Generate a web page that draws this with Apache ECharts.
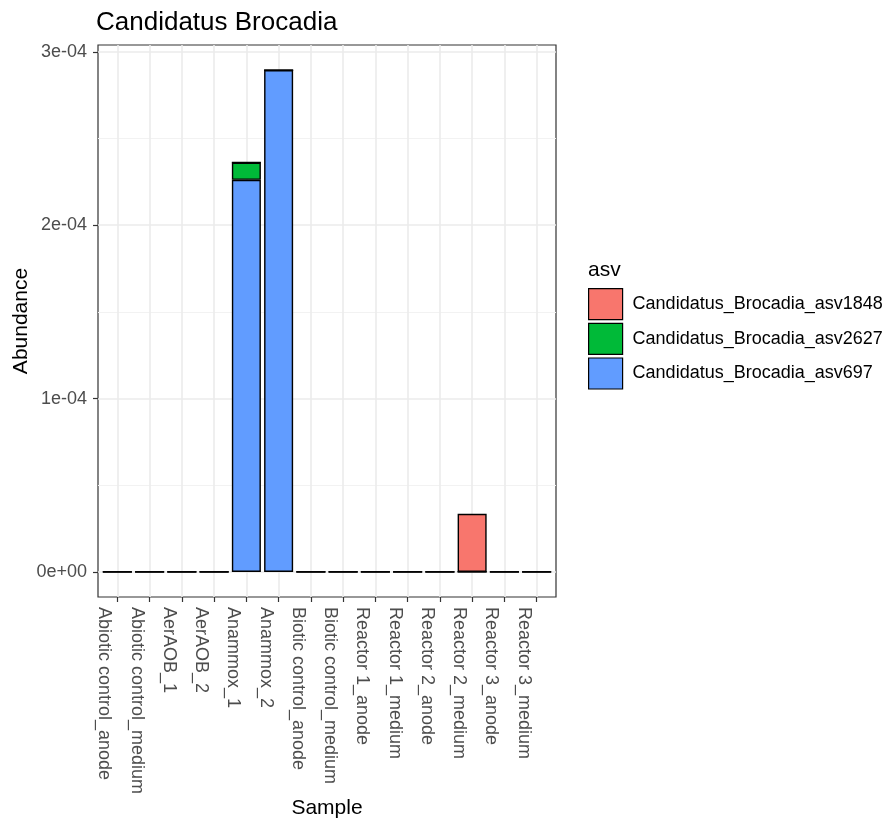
<!DOCTYPE html>
<html>
<head>
<meta charset="utf-8">
<script src="https://cdn.jsdelivr.net/npm/echarts@6/dist/echarts.min.js"></script>
<style>
  html, body { margin: 0; padding: 0; background: #fff; }
  #chart { width: 888px; height: 825px; }
</style>
</head>
<body>
<div id="chart"></div>
<script>
// Samples on the x axis
const samples = [
  'Abiotic control_anode', 'Abiotic control_medium', 'AerAOB_1', 'AerAOB_2',
  'Anammox_1', 'Anammox_2', 'Biotic control_anode', 'Biotic control_medium',
  'Reactor 1_anode', 'Reactor 1_medium', 'Reactor 2_anode', 'Reactor 2_medium',
  'Reactor 3_anode', 'Reactor 3_medium'
];

// Relative abundance of each ASV per sample
const asv697  = [0, 0, 0, 0, 2.262e-4, 2.895e-4, 0, 0, 0, 0, 0, 0, 0, 0];
const asv2627 = [0, 0, 0, 0, 1.00e-5,  0,        0, 0, 0, 0, 0, 0, 0, 0];
const asv1848 = [0, 0, 0, 0, 0,        0,        0, 0, 0, 0, 0, 3.35e-5, 0, 0];

// Legend entries (top to bottom) and their fills
const asvNames  = ['Candidatus_Brocadia_asv1848', 'Candidatus_Brocadia_asv2627', 'Candidatus_Brocadia_asv697'];
const asvColors = ['#F8766D', '#00BA38', '#619CFF'];

// Y axis breaks
const yTicks      = [0, 1e-4, 2e-4, 3e-4];
const yTickLabels = ['0e+00', '1e-04', '2e-04', '3e-04'];
const yMinorTicks = [0.5e-4, 1.5e-4, 2.5e-4];

const FONT = "'Liberation Sans', Arial, sans-serif";

// ggplot-style expansion: 5% of the data range for y, 0.6 units for discrete x
const totals = samples.map((_, i) => asv697[i] + asv2627[i] + asv1848[i]);
const yMax = Math.max(...totals);
const yLo = -0.05 * yMax;
const yHi = 1.05 * yMax;
const xIdx = samples.map((_, i) => i);
const xPad = 0.6;

// Panel geometry
const panel = { left: 98, top: 45, width: 458, height: 552 };
const band = panel.width / (samples.length - 1 + 2 * xPad);
const dataGrid = {
  left: panel.left + (xPad - 0.5) * band,
  top: panel.top,
  width: band * samples.length,
  height: panel.height
};

const barStyle = color => ({
  color: color,
  borderColor: '#000',
  borderWidth: 1.4
});

const chart = echarts.init(document.getElementById('chart'), null, { renderer: 'canvas' });

chart.setOption({
  backgroundColor: '#fff',
  animation: false,
  title: {
    text: 'Candidatus Brocadia',
    left: 96,
    top: 10,
    padding: 0,
    textStyle: { fontFamily: FONT, fontSize: 26, fontWeight: 'normal', color: '#000' }
  },
  graphic: [{
    type: 'text',
    left: 588,
    top: 260,
    style: { text: 'asv', fontFamily: FONT, fontSize: 21, fill: '#000' }
  }],
  legend: {
    orient: 'vertical',
    left: 588,
    top: 288,
    padding: 0,
    itemWidth: 34,
    itemHeight: 31,
    itemGap: 2.5,
    icon: 'rect',
    data: asvNames,
    itemStyle: { borderColor: '#000', borderWidth: 1.2 },
    textStyle: { fontFamily: FONT, fontSize: 18, color: '#000', padding: [0, 0, 0, 5] }
  },
  grid: [
    // panel: frame, grid lines, ticks and labels
    Object.assign({
      show: true, borderColor: '#333333', borderWidth: 1.2, backgroundColor: '#fff',
      outerBoundsMode: 'none', containLabel: false
    }, panel),
    // bars, one band per sample
    Object.assign({ show: false, outerBoundsMode: 'none', containLabel: false }, dataGrid)
  ],
  xAxis: [{
    gridIndex: 0,
    type: 'value',
    min: -xPad,
    max: samples.length - 1 + xPad,
    axisLine: { show: false, onZero: false },
    axisTick: {
      show: true, length: 5, inside: false,
      customValues: xIdx,
      lineStyle: { color: '#333333', width: 1.2 }
    },
    splitLine: { show: true, lineStyle: { color: '#EBEBEB', width: 1.6 } },
    axisLabel: {
      customValues: xIdx,
      rotate: -90,
      verticalAlign: 'top',
      padding: [4, 0, 0, 0],
      margin: 10,
      fontFamily: FONT,
      fontSize: 18,
      color: '#4D4D4D',
      formatter: v => samples[Math.round(v)] || ''
    },
    name: 'Sample',
    nameLocation: 'middle',
    nameGap: 201,
    nameMoveOverlap: false,
    nameTextStyle: { fontFamily: FONT, fontSize: 21, color: '#000', verticalAlign: 'top' }
  }, {
    gridIndex: 1,
    type: 'category',
    data: samples,
    boundaryGap: true,
    show: false
  }],
  yAxis: [{
    gridIndex: 0,
    type: 'value',
    min: yLo,
    max: yHi,
    axisLine: { show: false, onZero: false },
    axisTick: {
      show: true, length: 5,
      customValues: yTicks,
      lineStyle: { color: '#333333', width: 1.2 }
    },
    splitLine: { show: true, lineStyle: { color: '#EBEBEB', width: 1.6 } },
    axisLabel: {
      customValues: yTicks,
      margin: 11,
      fontFamily: FONT,
      fontSize: 18,
      color: '#4D4D4D',
      formatter: v => {
        const k = yTicks.findIndex(t => Math.abs(t - v) < 1e-12);
        return k >= 0 ? yTickLabels[k] : '';
      }
    },
    name: 'Abundance',
    nameLocation: 'middle',
    nameRotate: 90,
    nameGap: 66,
    nameMoveOverlap: false,
    nameTextStyle: { fontFamily: FONT, fontSize: 21, color: '#000' }
  }, {
    // minor horizontal grid lines
    gridIndex: 0,
    type: 'value',
    min: yLo,
    max: yHi,
    axisLine: { show: false, onZero: false },
    axisTick: { show: false, customValues: yMinorTicks },
    axisLabel: { show: false, customValues: yMinorTicks },
    splitLine: { show: true, lineStyle: { color: '#F2F2F2', width: 1 } }
  }, {
    gridIndex: 1,
    type: 'value',
    min: yLo,
    max: yHi,
    show: false,
    splitLine: { show: false }
  }],
  series: [
    {
      name: asvNames[2], type: 'bar', stack: 'asv', barWidth: '90%',
      xAxisIndex: 1, yAxisIndex: 2,
      itemStyle: barStyle(asvColors[2]), data: asv697
    },
    {
      name: asvNames[1], type: 'bar', stack: 'asv', barWidth: '90%',
      xAxisIndex: 1, yAxisIndex: 2,
      itemStyle: barStyle(asvColors[1]), data: asv2627
    },
    {
      name: asvNames[0], type: 'bar', stack: 'asv', barWidth: '90%',
      xAxisIndex: 1, yAxisIndex: 2,
      itemStyle: barStyle(asvColors[0]), data: asv1848
    }
  ]
});
</script>
</body>
</html>
